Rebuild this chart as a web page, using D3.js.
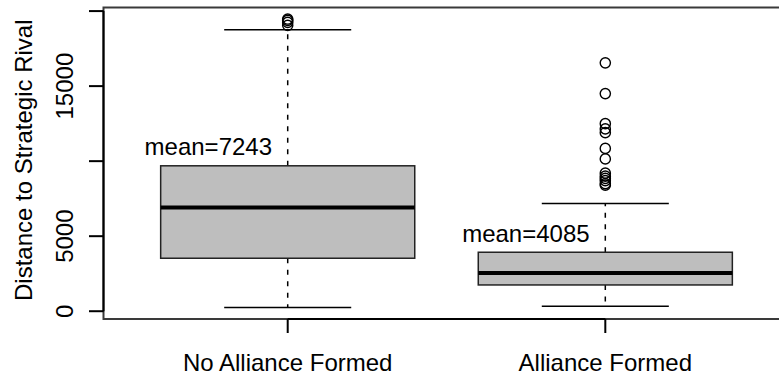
<!DOCTYPE html>
<html>
<head>
<meta charset="utf-8">
<script src="https://cdn.jsdelivr.net/npm/d3@7/dist/d3.min.js"></script>
<style>
  html, body { margin: 0; padding: 0; background: #fff; }
  svg { display: block; font-family: "Liberation Sans", Arial, Helvetica, sans-serif; }
</style>
</head>
<body>
<svg id="chart" width="779" height="376"></svg>
<script>
// Distance to strategic rival, by whether an alliance was formed
const groups = ["No Alliance Formed", "Alliance Formed"];
const means = [7243, 4085];
const lowerWhisker = [250, 330];
const q1 = [3530, 1750];
const median = [6910, 2550];
const q3 = [9690, 3930];
const upperWhisker = [18750, 7180];
const outliers = [
  [19470, 19380, 19250, 19050],
  [16550, 14500, 12500, 12150, 11900, 10850, 10150, 9200, 9000, 8850, 8700, 8500, 8400]
];
const yTicks = [0, 5000, 10000, 15000, 20000];
const yTickLabels = ["0", "5000", "", "15000", ""];
const yTitle = "Distance to Strategic Rival";

const svg = d3.select("#chart");
const plot = { left: 103.5, top: 7.5, bottom: 319 };
const fontSize = 24;

// y range padded by 4% of the data span on each side
const allVals = lowerWhisker.concat(upperWhisker, outliers.flat());
const lo = d3.min(allVals), hi = d3.max(allVals), span = hi - lo;
const y = d3.scaleLinear().domain([lo - 0.04 * span, hi + 0.04 * span]).range([plot.bottom, plot.top]);

// group positions 1..n with a 4% pad around [0.5, n + 0.5]
const n = groups.length;
const unit = 317.6;
const x = d3.scaleLinear().domain([0.5 - 0.04 * n, 1]).range([plot.left, plot.left + unit * (0.5 + 0.04 * n)]);
const xRight = x(n + 0.5 + 0.04 * n);
const boxHalf = 0.4, capHalf = 0.2;

// plot frame
svg.append("rect")
  .attr("x", plot.left).attr("y", plot.top)
  .attr("width", xRight - plot.left).attr("height", plot.bottom - plot.top)
  .attr("fill", "none").attr("stroke", "#3a3a3a").attr("stroke-width", 2);

groups.forEach((g, i) => {
  const cx = x(i + 1);
  const layer = svg.append("g");
  // whiskers
  [[q3[i], upperWhisker[i]], [q1[i], lowerWhisker[i]]].forEach(([a, b]) => {
    layer.append("line")
      .attr("x1", cx).attr("x2", cx).attr("y1", y(a)).attr("y2", y(b))
      .attr("stroke", "#000").attr("stroke-width", 1.5).attr("stroke-dasharray", "5,6.5");
    layer.append("line")
      .attr("x1", x(i + 1 - capHalf)).attr("x2", x(i + 1 + capHalf))
      .attr("y1", y(b)).attr("y2", y(b))
      .attr("stroke", "#000").attr("stroke-width", 1.5);
  });
  // box
  layer.append("rect")
    .attr("x", x(i + 1 - boxHalf)).attr("y", y(q3[i]))
    .attr("width", x(i + 1 + boxHalf) - x(i + 1 - boxHalf))
    .attr("height", y(q1[i]) - y(q3[i]))
    .attr("fill", "#bebebe").attr("stroke", "#222").attr("stroke-width", 1.5);
  // median
  layer.append("line")
    .attr("x1", x(i + 1 - boxHalf)).attr("x2", x(i + 1 + boxHalf))
    .attr("y1", y(median[i])).attr("y2", y(median[i]))
    .attr("stroke", "#000").attr("stroke-width", 4);
  // outliers
  layer.selectAll("circle.out").data(outliers[i]).join("circle")
    .attr("class", "out")
    .attr("cx", cx).attr("cy", d => y(d)).attr("r", 5.1)
    .attr("fill", "none").attr("stroke", "#000").attr("stroke-width", 1.4);
  // mean label
  layer.append("text")
    .attr("x", x(i + 1 - 0.25)).attr("y", y(q3[i]) - 10.5)
    .attr("text-anchor", "middle").attr("font-size", fontSize).attr("fill", "#000")
    .text("mean=" + means[i]);
});

// y axis
const yAxis = svg.append("g");
yAxis.append("line")
  .attr("x1", plot.left).attr("x2", plot.left)
  .attr("y1", y(yTicks[0])).attr("y2", y(yTicks[yTicks.length - 1]))
  .attr("stroke", "#000").attr("stroke-width", 2);
yTicks.forEach((t, k) => {
  yAxis.append("line")
    .attr("x1", plot.left - 14.5).attr("x2", plot.left)
    .attr("y1", y(t)).attr("y2", y(t))
    .attr("stroke", "#000").attr("stroke-width", 2);
  if (yTickLabels[k]) {
    yAxis.append("text")
      .attr("transform", `translate(72.5,${y(t)}) rotate(-90)`)
      .attr("text-anchor", "middle").attr("font-size", fontSize).attr("fill", "#000")
      .text(yTickLabels[k]);
  }
});
svg.append("text")
  .attr("transform", `translate(31.5,${(plot.top + plot.bottom) / 2 - 3}) rotate(-90)`)
  .attr("text-anchor", "middle").attr("font-size", fontSize).attr("fill", "#000")
  .text(yTitle);

// x axis
const xAxis = svg.append("g");
xAxis.append("line")
  .attr("x1", x(1)).attr("x2", x(n))
  .attr("y1", plot.bottom).attr("y2", plot.bottom)
  .attr("stroke", "#000").attr("stroke-width", 2);
groups.forEach((g, i) => {
  xAxis.append("line")
    .attr("x1", x(i + 1)).attr("x2", x(i + 1))
    .attr("y1", plot.bottom).attr("y2", plot.bottom + 14)
    .attr("stroke", "#000").attr("stroke-width", 2);
  xAxis.append("text")
    .attr("x", x(i + 1)).attr("y", 370.7)
    .attr("text-anchor", "middle").attr("font-size", fontSize).attr("fill", "#000")
    .text(g);
});
</script>
</body>
</html>
